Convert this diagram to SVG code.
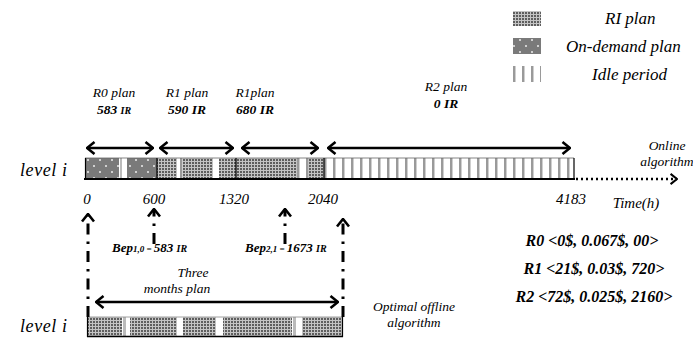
<svg xmlns="http://www.w3.org/2000/svg" width="693" height="338" viewBox="0 0 693 338">
<style>
text{font-family:"Liberation Serif","Times New Roman",serif;font-style:italic;fill:#000}
.b{font-weight:bold}
.lbl{font-size:13.5px}
.leg{font-size:17px}
.ax{font-size:15px}
.cost{font-size:16px;font-weight:bold}
.lvl{font-size:18px;letter-spacing:0.6px}
.harrow{stroke:#000;stroke-width:2.5;fill:none;marker-start:url(#ah);marker-end:url(#ah)}
.varrow{stroke:#000;stroke-width:3;fill:none;stroke-dasharray:11 7 2.5 7;marker-end:url(#ah)}
.sep{stroke:#000;stroke-width:1.2}
</style>
<defs>
<pattern id="ri" width="3" height="3" patternUnits="userSpaceOnUse"><rect width="3" height="3" fill="#c4c4c4"/><rect width="2" height="2" fill="#5e5e5e"/></pattern>
<pattern id="od" width="12" height="12" patternUnits="userSpaceOnUse"><rect width="12" height="12" fill="#7a7a7a"/><rect x="3" y="3" width="2" height="2" fill="#d0d0d0"/><rect x="9" y="9" width="2" height="2" fill="#d0d0d0"/></pattern>
<pattern id="idle" width="9" height="10" patternUnits="userSpaceOnUse"><rect width="9" height="10" fill="#fff"/><rect x="0" width="2" height="10" fill="#9a9a9a"/><rect x="2" width="1" height="10" fill="#cfcfcf"/></pattern>
<marker id="ah" viewBox="0 0 10 14" refX="9" refY="7" markerWidth="10" markerHeight="14" markerUnits="userSpaceOnUse" orient="auto-start-reverse"><path d="M1.5,1 L9,7 L1.5,13" fill="none" stroke="#000" stroke-width="2.6"/></marker>
<marker id="ah3" viewBox="0 0 10 14" refX="9" refY="7" markerWidth="9" markerHeight="12" markerUnits="userSpaceOnUse" orient="auto"><path d="M1.5,1 L9,7 L1.5,13" fill="none" stroke="#000" stroke-width="2.4"/></marker>
</defs>

<g id="legend">
<rect x="513" y="11" width="28" height="15" fill="url(#ri)"/>
<text class="leg" x="605" y="24">RI plan</text>
<rect x="513" y="38" width="28" height="16" fill="url(#od)"/>
<text class="leg" x="566" y="52">On-demand plan</text>
<rect x="513" y="66" width="28" height="16" fill="url(#idle)"/>
<text class="leg" x="592" y="80">Idle period</text>
</g>

<g id="plan-labels">
<text class="lbl" x="114" y="97" text-anchor="middle">R0 plan</text>
<text class="lbl b" x="114" y="114" text-anchor="middle">583 <tspan font-size="10">IR</tspan></text>
<text class="lbl" x="187" y="97" text-anchor="middle">R1 plan</text>
<text class="lbl b" x="187" y="114" text-anchor="middle">590 IR</text>
<text class="lbl" x="255" y="97" text-anchor="middle">R1plan</text>
<text class="lbl b" x="255" y="114" text-anchor="middle">680 IR</text>
<text class="lbl" x="446" y="91" text-anchor="middle">R2 plan</text>
<text class="lbl b" x="446" y="108" text-anchor="middle">0 IR</text>
</g>

<g id="online-bar">
<rect x="85" y="158" width="34" height="20" fill="url(#od)"/>
<rect x="119" y="158" width="8" height="20" fill="#fff"/>
<rect x="120" y="158" width="2" height="20" fill="#bbb"/>
<rect x="127" y="158" width="30" height="20" fill="url(#od)"/>
<rect x="157" y="158" width="20" height="20" fill="url(#ri)"/>
<rect x="177" y="158" width="6" height="20" fill="url(#idle)"/>
<rect x="183" y="158" width="30" height="20" fill="url(#ri)"/>
<rect x="213" y="158" width="6" height="20" fill="#fff"/>
<rect x="219" y="158" width="17" height="20" fill="url(#ri)"/>
<rect x="236" y="158" width="61" height="20" fill="url(#ri)"/>
<rect x="297" y="158" width="11" height="20" fill="url(#idle)"/>
<rect x="308" y="158" width="16" height="20" fill="url(#ri)"/>
<rect x="324" y="158" width="250" height="20" fill="url(#idle)"/>
<line x1="85" y1="158" x2="574" y2="158" stroke="#666" stroke-width="0.8"/>
<line class="sep" x1="85.5" y1="158" x2="85.5" y2="179"/>
<line class="sep" x1="157" y1="158" x2="157" y2="179"/>
<line class="sep" x1="236" y1="158" x2="236" y2="179"/>
<line class="sep" x1="324" y1="158" x2="324" y2="179"/>
<line class="sep" x1="574" y1="158" x2="574" y2="179"/>
<line x1="84" y1="179" x2="575" y2="179" stroke="#000" stroke-width="2"/>
<text class="lvl" x="20" y="176">level i</text>
</g>

<g id="axis-labels">
<text class="ax" x="87" y="204" text-anchor="middle">0</text>
<text class="ax" x="154" y="204" text-anchor="middle">600</text>
<text class="ax" x="234" y="204" text-anchor="middle">1320</text>
<text class="ax" x="323" y="204" text-anchor="middle">2040</text>
<text class="ax" x="571" y="204" text-anchor="middle">4183</text>
<text class="ax" x="636" y="208" text-anchor="middle">Time(h)</text>
<text class="lbl" x="667" y="150" text-anchor="middle">Online</text>
<text class="lbl" x="667" y="166" text-anchor="middle">algorithm</text>
</g>

<g id="bep-labels">
<text class="b" x="112" y="252" font-size="13">Bep<tspan font-size="9">1,0</tspan><tspan font-size="9"> = </tspan>583 <tspan font-size="10">IR</tspan></text>
<text class="b" x="245" y="252" font-size="13">Bep<tspan font-size="9">2,1</tspan><tspan font-size="9"> = </tspan>1673 <tspan font-size="10">IR</tspan></text>
</g>

<g id="cost-table">
<text class="cost" x="592" y="246" text-anchor="middle">R0 &lt;0$, 0.067$, 00&gt;</text>
<text class="cost" x="594" y="274" text-anchor="middle">R1 &lt;21$, 0.03$, 720&gt;</text>
<text class="cost" x="594" y="302" text-anchor="middle">R2 &lt;72$, 0.025$, 2160&gt;</text>
</g>

<g id="offline-bar">
<rect x="87" y="317" width="35" height="19" fill="url(#ri)"/>
<rect x="122" y="317" width="8" height="19" fill="#fff"/>
<rect x="123" y="317" width="3" height="19" fill="#bbb"/>
<rect x="130" y="317" width="47" height="19" fill="url(#ri)"/>
<rect x="177" y="317" width="6" height="19" fill="#fff"/>
<rect x="183" y="317" width="33" height="19" fill="url(#ri)"/>
<rect x="216" y="317" width="7" height="19" fill="#fff"/>
<rect x="223" y="317" width="69" height="19" fill="url(#ri)"/>
<rect x="292" y="317" width="10" height="19" fill="#fff"/>
<rect x="293" y="317" width="3" height="19" fill="#bbb"/>
<rect x="302" y="317" width="40" height="19" fill="url(#ri)"/>
<line x1="87" y1="317" x2="343" y2="317" stroke="#888" stroke-width="0.8"/>
<line class="sep" x1="87.5" y1="317" x2="87.5" y2="337"/>
<line class="sep" x1="342.5" y1="317" x2="342.5" y2="337"/>
<line x1="87" y1="336.5" x2="343" y2="336.5" stroke="#000" stroke-width="1.5"/>
<text class="lvl" x="20" y="332">level i</text>
<text class="lbl" x="193" y="277" text-anchor="middle">Three</text>
<text class="lbl" x="177" y="293" text-anchor="middle">months plan</text>
<text class="lbl" x="414" y="311" text-anchor="middle">Optimal offline</text>
<text class="lbl" x="414" y="327" text-anchor="middle">algorithm</text>
</g>

<g id="connectors">
<line class="harrow" x1="87" y1="148" x2="153" y2="148"/>
<line class="harrow" x1="160" y1="148" x2="233" y2="148"/>
<line class="harrow" x1="242" y1="148" x2="318" y2="148"/>
<line class="harrow" x1="328" y1="148" x2="570" y2="148"/>
<line x1="576" y1="179" x2="677" y2="179" stroke="#000" stroke-width="2.5" stroke-dasharray="2 3" marker-end="url(#ah3)"/>
<line class="harrow" x1="96" y1="302" x2="338" y2="302"/>
<line class="varrow" x1="88" y1="317" x2="88" y2="214"/>
<line class="varrow" x1="154" y1="244" x2="154" y2="209"/>
<line class="varrow" x1="285" y1="244" x2="285" y2="209"/>
<line class="varrow" x1="343" y1="317" x2="343" y2="219"/>
</g>
</svg>
